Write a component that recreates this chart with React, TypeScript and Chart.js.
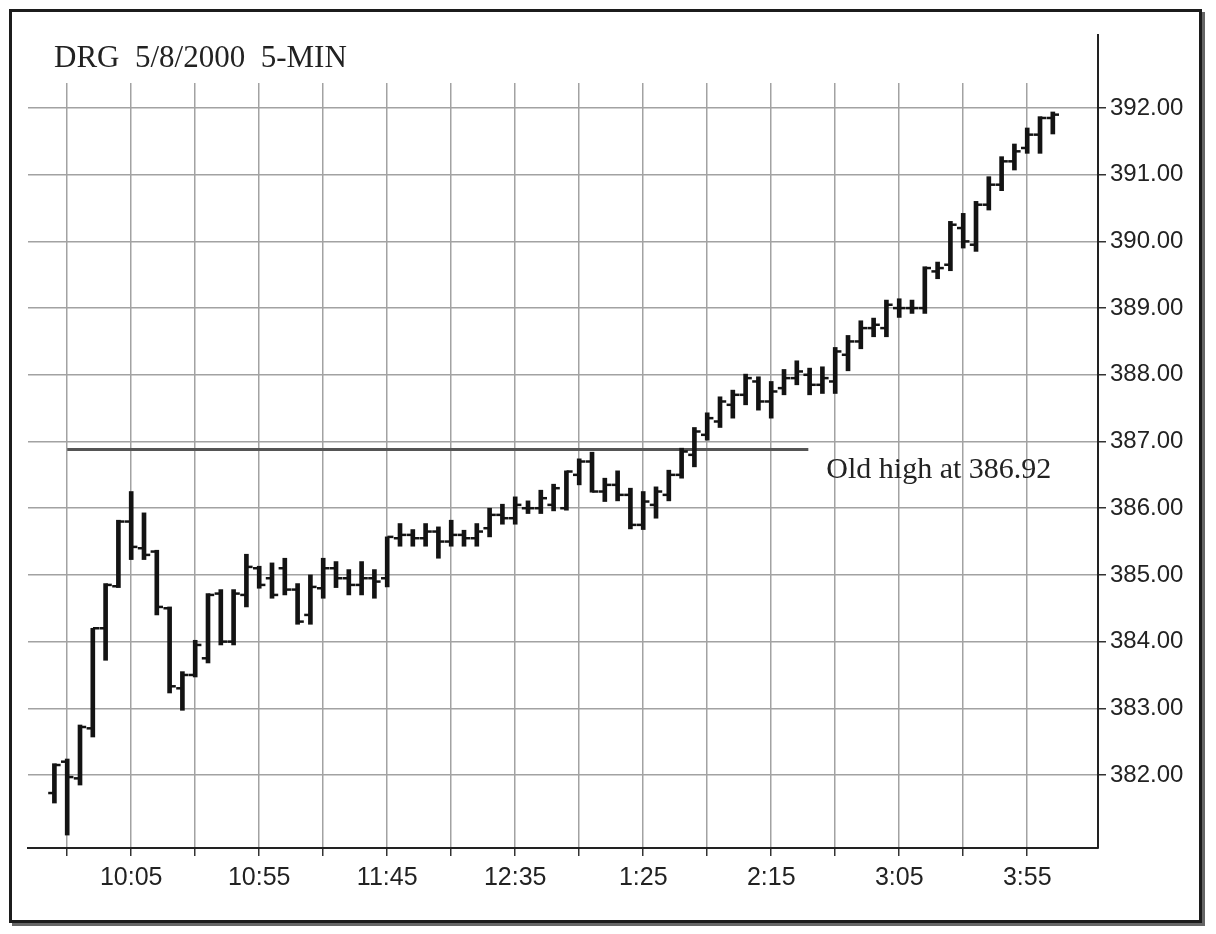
import React, { useEffect, useRef } from "react";
import { Chart, registerables } from "chart.js";

Chart.register(...registerables);

// 5-minute bars, index 0 = 9:35
const highs = [
  382.17, 382.24, 382.75, 384.2, 384.87, 385.82, 386.25, 385.93, 385.37, 384.52,
  383.55, 384.02, 384.72, 384.78, 384.78, 385.31, 385.13, 385.18, 385.25, 384.87,
  385.0, 385.25, 385.2, 385.08, 385.2, 385.08, 385.57, 385.77, 385.68, 385.77,
  385.72, 385.82, 385.67, 385.77, 386.0, 386.06, 386.17, 386.11, 386.27, 386.36,
  386.56, 386.74, 386.84, 386.45, 386.56, 386.3, 386.25, 386.32, 386.57, 386.9,
  387.21, 387.43, 387.67, 387.77, 388.01, 387.97, 387.9, 388.08, 388.21, 388.1,
  388.12, 388.41, 388.59, 388.81, 388.85, 389.12, 389.14, 389.12, 389.62, 389.69,
  390.3, 390.42, 390.6, 390.97, 391.27, 391.46, 391.7, 391.87, 391.94,
];
const lows = [
  381.58, 381.1, 381.85, 382.57, 383.72, 384.81, 385.23, 385.23, 384.4, 383.23,
  382.97, 383.47, 383.68, 383.95, 383.95, 384.52, 384.8, 384.65, 384.7, 384.26,
  384.26, 384.65, 384.81, 384.7, 384.7, 384.65, 384.82, 385.43, 385.43, 385.43,
  385.25, 385.43, 385.43, 385.43, 385.57, 385.76, 385.76, 385.92, 385.92, 385.96,
  385.97, 386.35, 386.24, 386.1, 386.11, 385.69, 385.68, 385.85, 386.11, 386.45,
  386.62, 387.02, 387.21, 387.35, 387.55, 387.47, 387.35, 387.7, 387.85, 387.7,
  387.72, 387.72, 388.06, 388.39, 388.57, 388.57, 388.86, 388.92, 388.92, 389.44,
  389.56, 389.9, 389.85, 390.47, 390.76, 391.07, 391.32, 391.32, 391.61,
];
const opens = [
  381.73, 382.2, 381.95, 382.7, 384.2, 384.83, 385.8, 385.4, 385.35, 384.5,
  383.3, 383.5, 383.75, 384.72, 384.0, 384.7, 385.1, 384.95, 385.1, 384.78,
  384.4, 384.8, 385.1, 384.95, 384.85, 384.95, 384.95, 385.55, 385.6, 385.55,
  385.65, 385.5, 385.6, 385.55, 385.7, 385.9, 385.85, 386.0, 386.0, 386.05,
  386.0, 386.5, 386.7, 386.25, 386.35, 386.2, 385.75, 386.05, 386.2, 386.5,
  386.8, 387.1, 387.3, 387.55, 387.7, 387.9, 387.6, 387.8, 387.95, 388.0,
  387.85, 387.9, 388.3, 388.5, 388.7, 388.7, 389.0, 389.0, 389.0, 389.55,
  389.65, 390.2, 389.95, 390.55, 390.85, 391.2, 391.4, 391.6, 391.85,
];
const closes = [
  382.15, 381.97, 382.72, 384.2, 384.85, 385.8, 385.42, 385.3, 384.52, 383.33,
  383.5, 383.95, 384.7, 384.0, 384.72, 385.12, 384.85, 384.7, 384.78, 384.3,
  384.82, 385.1, 384.95, 384.85, 384.95, 384.9, 385.57, 385.6, 385.55, 385.65,
  385.5, 385.6, 385.55, 385.65, 385.9, 385.85, 386.05, 386.0, 386.15, 386.3,
  386.55, 386.7, 386.25, 386.35, 386.2, 385.75, 386.1, 386.25, 386.5, 386.85,
  387.15, 387.35, 387.6, 387.7, 387.95, 387.6, 387.75, 387.95, 388.05, 387.85,
  387.95, 388.35, 388.5, 388.7, 388.75, 389.05, 389.0, 389.0, 389.6, 389.6,
  390.25, 390.0, 390.55, 390.85, 391.2, 391.35, 391.6, 391.85, 391.9,
];

const yTicks = [382, 383, 384, 385, 386, 387, 388, 389, 390, 391, 392];
const xGridIndex = [1, 6, 11, 16, 21, 26, 31, 36, 41, 46, 51, 56, 61, 66, 71, 76];
const xLabelIndex = [6, 16, 26, 36, 46, 56, 66, 76];
const xLabels = ["10:05", "10:55", "11:45", "12:35", "1:25", "2:15", "3:05", "3:55"];

const oldHigh = 386.88;
const oldHighSpan = [1, 58.9];
const titleText = "DRG  5/8/2000  5-MIN";
const oldHighText = "Old high at 386.92";

const overlayPlugin = {
  id: "overlay",
  beforeDatasetsDraw(chart: any) {
    const { ctx, chartArea } = chart;
    ctx.save();
    ctx.fillStyle = "#ffffff";
    ctx.fillRect(chartArea.left + 1.5, chartArea.top, chartArea.right - chartArea.left - 3.5, 83 - chartArea.top);
    ctx.restore();
  },
  afterDatasetsDraw(chart: any) {
    const { ctx, scales } = chart;
    ctx.save();
    ctx.fillStyle = "#222";
    ctx.textBaseline = "alphabetic";
    ctx.textAlign = "left";
    ctx.font = '31px "Liberation Serif"';
    ctx.fillText(titleText, 54, 67);
    ctx.font = '30px "Liberation Serif"';
    const x = scales.x.getPixelForValue(oldHighSpan[1]) + 18;
    const y = scales.y.getPixelForValue(oldHigh) + 28;
    ctx.fillText(oldHighText, x, y);
    ctx.restore();
  },
};

export default function App() {
  const canvasRef = useRef<HTMLCanvasElement | null>(null);

  useEffect(() => {
    if (!canvasRef.current) return;
    const ink = "#131313";
    const gridColor = "#a2a2a2";
    const chart = new Chart(canvasRef.current, {
      type: "bar",
      data: {
        datasets: [
          {
            type: "bar",
            data: highs.map((h, i) => ({ x: i, y: [lows[i], h] })) as any,
            backgroundColor: ink,
            borderWidth: 0,
            barThickness: 4,
          } as any,
          {
            type: "line",
            data: opens.map((o, i) => ({ x: i - 0.25, y: o })),
            showLine: false,
            pointStyle: "line",
            pointRadius: 3,
            pointBorderWidth: 2.5,
            pointBorderColor: ink,
            borderColor: ink,
          } as any,
          {
            type: "line",
            data: closes.map((c, i) => ({ x: i + 0.25, y: c })),
            showLine: false,
            pointStyle: "line",
            pointRadius: 3,
            pointBorderWidth: 2.5,
            pointBorderColor: ink,
            borderColor: ink,
          } as any,
          {
            type: "line",
            data: oldHighSpan.map((x) => ({ x, y: oldHigh })),
            borderColor: "#555555",
            borderWidth: 3,
            pointRadius: 0,
          } as any,
        ],
      },
      options: {
        animation: false,
        responsive: false,
        events: [],
        layout: { padding: { left: 28, top: 35, right: 0, bottom: 0 } },
        plugins: {
          legend: { display: false },
          tooltip: { enabled: false },
          title: { display: false },
        },
        scales: {
          x: {
            type: "linear",
            min: -2.0625,
            max: 81.53,
            offset: false,
            afterBuildTicks: (s: any) => {
              s.ticks = xGridIndex.map((v) => ({ value: v }));
            },
            afterFit: (s: any) => {
              s.height = 86;
            },
            grid: { offset: false, color: gridColor, lineWidth: 1.5, tickLength: 8, tickColor: "#333", drawTicks: true },
            border: { display: true, color: "#222", width: 2 },
            ticks: {
              autoSkip: false,
              maxRotation: 0,
              padding: 7,
              color: "#222",
              font: { family: "'Liberation Sans', Arial, sans-serif", size: 25 },
              callback: (v: any) => {
                const k = xLabelIndex.indexOf(Number(v));
                return k >= 0 ? xLabels[k] : "";
              },
            },
          },
          y: {
            position: "right",
            min: 380.906,
            max: 393.094,
            afterBuildTicks: (s: any) => {
              s.ticks = yTicks.map((v) => ({ value: v }));
            },
            afterFit: (s: any) => {
              s.width = 118;
            },
            grid: { color: gridColor, lineWidth: 1.5, tickLength: 8, tickColor: "#333", drawTicks: true },
            border: { display: true, color: "#222", width: 2 },
            ticks: {
              padding: 4,
              color: "#222",
              font: { family: "'Liberation Sans', Arial, sans-serif", size: 24 },
              callback: (v: any) => Number(v).toFixed(2),
            },
          },
        },
      } as any,
      plugins: [overlayPlugin],
    });
    return () => chart.destroy();
  }, []);

  return (
    <div
      style={{
        position: "absolute",
        left: 0,
        top: 0,
        width: 1216,
        height: 934,
        background: "#fff",
        overflow: "hidden",
      }}
    >
      <div
        style={{
          position: "absolute",
          left: 9,
          top: 9,
          width: 1193,
          height: 914,
          border: "3px solid #1c1c1c",
          boxSizing: "border-box",
          boxShadow: "3px 3px 0 #666",
        }}
      />
      <canvas
        ref={canvasRef}
        width={1216}
        height={934}
        style={{ position: "absolute", left: 0, top: 0, width: 1216, height: 934 }}
      />
    </div>
  );
}
